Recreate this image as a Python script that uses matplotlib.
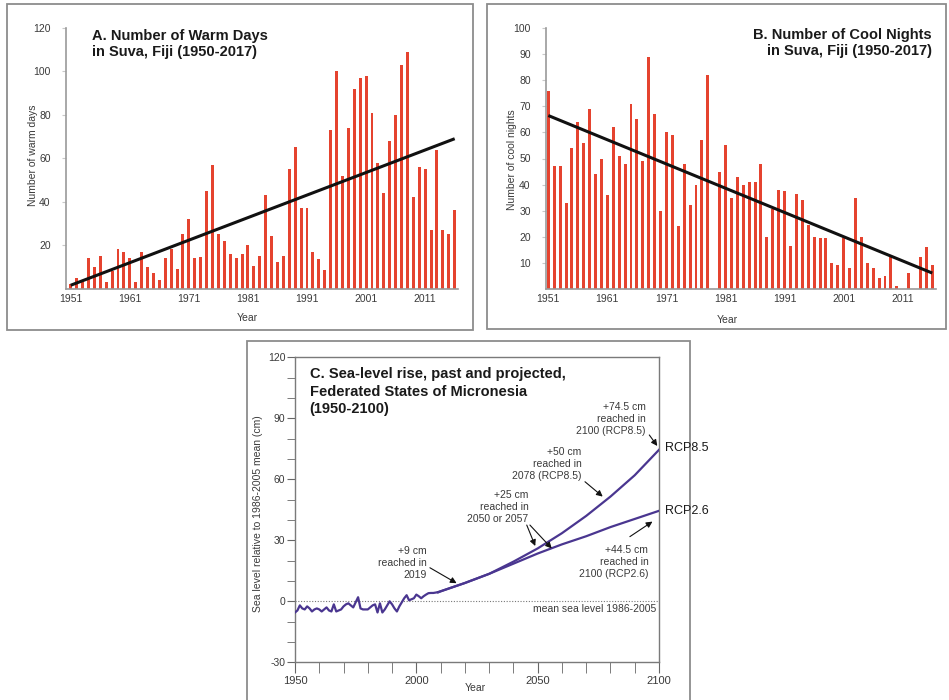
import matplotlib
matplotlib.use('Agg')
import matplotlib.pyplot as plt
import numpy as np
from matplotlib.patches import Rectangle
from matplotlib.ticker import MultipleLocator

plt.rcParams['font.family'] = ['Liberation Sans', 'DejaVu Sans']
plt.rcParams['axes.unicode_minus'] = False

# ---------------- data ----------------
years_ab = list(range(1951, 2017))
warm_days = [2, 5, 3, 14, 10, 15, 3, 8, 18, 17,
             14, 3, 17, 10, 7, 4, 14, 18, 9, 25,
             32, 14, 14.5, 45, 57, 25, 22, 16, 14, 16,
             20, 10.5, 15, 43, 24, 12, 15, 55, 65, 37,
             37, 17, 13.5, 8.5, 73, 100, 52, 74, 92, 97,
             98, 81, 58, 44, 68, 80, 103, 109, 42, 56,
             55, 27, 64, 27, 25, 36]
cool_nights = [76, 47, 47, 33, 54, 64, 56, 69, 44, 50,
               36, 62, 51, 48, 71, 65, 49, 89, 67, 30,
               60, 59, 24, 48, 32, 40, 57, 82, 0, 45,
               55, 35, 43, 40, 41, 41, 48, 20, 30.5, 38,
               37.5, 16.5, 36.5, 34, 24.5, 20, 19.5, 19.5, 10, 9,
               19.5, 8, 35, 20, 10, 8, 4, 5, 12, 1,
               0, 6, 0, 12, 16, 9]
trend_years = [1951, 2016]
trend_warm = [1.5, 69]
trend_cool = [66.5, 6]

hist_years = list(range(1950, 2010))
hist_sea = [-5.5, -4.5, -2, -3.5, -4, -2.5, -3.5, -5, -4, -3.5,
            -4, -5, -4, -3, -4.5, -5, -1.5, -5, -4.5, -4,
            -2.5, -1.5, -1, -2, -3, -0.5, 2, -3.5, -4, -4,
            -4, -3, -2, -1.5, -5.5, -1, -5.5, -4, -2, 0,
            -1.5, -3.5, -5, -2.5, -0.5, 1.5, 3, 0.5, 1, 1.5,
            3.3, 2.5, 1.5, 2.5, 3.3, 4, 4.1, 4.1, 4.3, 4.5]
proj_years = [2009, 2020, 2030, 2040, 2050, 2060, 2070, 2080, 2090, 2100]
rcp85 = [4.5, 9, 13.5, 19.5, 26, 33.5, 42, 51.5, 62, 74.5]
rcp26 = [4.5, 9, 13.5, 18.5, 23.5, 28, 32, 36.5, 40.5, 44.5]

ab_ticks = [1951, 1961, 1971, 1981, 1991, 2001, 2011]

# ---------------- layout ----------------
W, H = 949, 700
fig = plt.figure(figsize=(W / 100, H / 100), dpi=100)
fig.patch.set_facecolor('white')

def ax_px(l, t, r, b):
    return fig.add_axes([l / W, 1 - b / H, (r - l) / W, (b - t) / H])

def box_px(l, t, r, b):
    fig.add_artist(Rectangle((l / W, 1 - b / H), (r - l) / W, (b - t) / H,
                             transform=fig.transFigure, fill=False,
                             ec='#8c8c8c', lw=1.3))

def ftext(x, y, s, **kw):
    fig.text(x / W, 1 - y / H, s, **kw)

BAR = '#e5432f'
TXT = '#3a3a3a'
SP = '#9a9a9a'

box_px(7, 4, 473, 330)
box_px(487, 4, 946, 329)
box_px(247, 341, 690, 702)

def bar_panel(ax, vals, trend, ymax, yt):
    ax.bar(years_ab, vals, width=0.5, color=BAR, zorder=2)
    ax.plot(trend_years, trend, color='#111111', lw=2.2, zorder=3,
            solid_capstyle='butt')
    ax.set_ylim(0, ymax)
    for s in ['top', 'right']:
        ax.spines[s].set_visible(False)
    for s in ['left', 'bottom']:
        ax.spines[s].set_color(SP)
        ax.spines[s].set_linewidth(1.2)
    ax.set_yticks(yt)
    ax.set_xticks(ab_ticks)
    ax.tick_params(axis='y', length=3, color='#c8c8c8', labelsize=7.5,
                   labelcolor=TXT, pad=8)
    ax.tick_params(axis='x', length=0, labelsize=7.5, labelcolor=TXT, pad=4)
    ax.patch.set_alpha(0)

# Panel A
axA = ax_px(66, 28, 458, 288.5)
bar_panel(axA, warm_days, trend_warm, 120, [20, 40, 60, 80, 100, 120])
axA.set_xlim(1950.2, 2016.56)
ftext(33, 155, 'Number of warm days', rotation=90, ha='center', va='center',
      fontsize=7.5, color=TXT)
ftext(247, 318, 'Year', ha='center', va='center', fontsize=7.5, color=TXT)
ftext(91.7, 40, 'A. Number of Warm Days', fontsize=10.5, fontweight='bold',
      color='#1a1a1a', va='baseline')
ftext(91.7, 56, 'in Suva, Fiji (1950-2017)', fontsize=10.5, fontweight='bold',
      color='#1a1a1a', va='baseline')

# Panel B
axB = ax_px(546, 28.3, 936, 288.7)
bar_panel(axB, cool_nights, trend_cool, 100, list(range(10, 101, 10)))
axB.set_xlim(1950.61, 2016.63)
ftext(512, 160, 'Number of cool nights', rotation=90, ha='center', va='center',
      fontsize=7.5, color=TXT)
ftext(727, 320, 'Year', ha='center', va='center', fontsize=7.5, color=TXT)
ftext(931.7, 38.5, 'B. Number of Cool Nights', fontsize=10.5, fontweight='bold',
      color='#1a1a1a', va='baseline', ha='right')
ftext(931.7, 54.5, 'in Suva, Fiji (1950-2017)', fontsize=10.5, fontweight='bold',
      color='#1a1a1a', va='baseline', ha='right')

# Panel C
LC = '#4a3690'
axC = ax_px(295, 357.3, 659, 662.3)
axC.set_xlim(1950, 2100)
axC.set_ylim(-30, 120)
axC.axhline(0, color='#777777', lw=0.8, ls=(0, (1, 1.5)), zorder=1)
axC.plot(hist_years, hist_sea, color=LC, lw=1.6, zorder=3)
axC.plot(proj_years, rcp85, color=LC, lw=1.6, zorder=3)
axC.plot(proj_years, rcp26, color=LC, lw=1.6, zorder=3)
for s in axC.spines.values():
    s.set_color('#7a7a7a')
    s.set_linewidth(1.0)
axC.yaxis.set_major_locator(MultipleLocator(30))
axC.yaxis.set_minor_locator(MultipleLocator(10))
axC.xaxis.set_major_locator(MultipleLocator(50))
axC.xaxis.set_minor_locator(MultipleLocator(10))
axC.tick_params(axis='y', which='both', direction='out', length=6,
                color='#666666', labelsize=7.5, labelcolor=TXT, pad=1)
axC.tick_params(axis='x', which='both', direction='out', length=8,
                color='#666666', labelsize=8, labelcolor=TXT, pad=2)
ftext(258, 514, 'Sea level relative to 1986-2005 mean (cm)', rotation=90,
      ha='center', va='center', fontsize=7.5, color=TXT)
ftext(475, 688, 'Year', ha='center', va='center', fontsize=7.5, color=TXT)
for i, line in enumerate(['C. Sea-level rise, past and projected,',
                          'Federated States of Micronesia',
                          '(1950-2100)']):
    ftext(309.5, 378.3 + i * 17.4, line, fontsize=10.5, fontweight='bold',
          color='#1a1a1a', va='baseline')

ANN = dict(fontsize=7.5, color='#3a3a3a', ha='right', va='center',
           linespacing=1.25)
axC.text(2004.4, 18.9, '+9 cm\nreached in\n2019', **ANN)
axC.text(2046.2, 46.4, '+25 cm\nreached in\n2050 or 2057', **ANN)
axC.text(2068.1, 67.5, '+50 cm\nreached in\n2078 (RCP8.5)', **ANN)
axC.text(2094.6, 89.5, '+74.5 cm\nreached in\n2100 (RCP8.5)', **ANN)
axC.text(2095.6, 19.5, '+44.5 cm\nreached in\n2100 (RCP2.6)', **ANN)
axC.text(2099, -3.9, 'mean sea level 1986-2005', fontsize=7.5, color='#3a3a3a',
         ha='right', va='center')

AP = dict(arrowstyle='-|>', color='#111111', lw=0.8, mutation_scale=9,
          shrinkA=0, shrinkB=0)
for start, tip in [((2005.6, 16.5), (2016.6, 8.9)),
                   ((2045.5, 37.5), (2049.0, 27.2)),
                   ((2046.8, 37.5), (2055.8, 26.0)),
                   ((2069.5, 58.8), (2076.8, 51.5)),
                   ((2096.0, 81.8), (2099.3, 76.4)),
                   ((2088.0, 31.8), (2097.3, 39.2))]:
    axC.annotate('', xy=tip, xytext=start, arrowprops=AP)

ftext(665, 448, 'RCP8.5', fontsize=9, color='#1a1a1a', va='center', ha='left')
ftext(665, 511, 'RCP2.6', fontsize=9, color='#1a1a1a', va='center', ha='left')

fig.savefig('out.png', dpi=100)
